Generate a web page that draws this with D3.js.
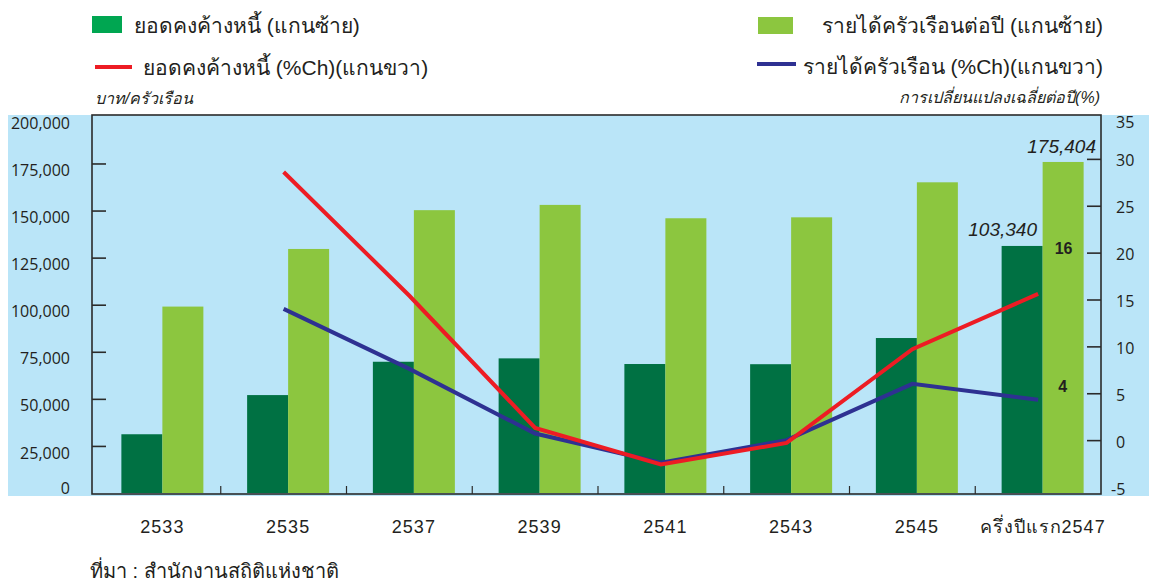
<!DOCTYPE html>
<html lang="th">
<head>
<meta charset="UTF-8">
<script src="https://d3js.org/d3.v7.min.js"></script>
<title>ยอดคงค้างหนี้และรายได้ครัวเรือน</title>
<style>
  body { margin: 0; background: #fff; }
  text { font-family: "Liberation Sans", "Noto Sans", sans-serif; fill: #231f20; }
  .num { font-family: "Open Sans", "Noto Sans", sans-serif; }
</style>
</head>
<body>
<div id="chart"></div>
<script>
// data
const years = ["2533", "2535", "2537", "2539", "2541", "2543", "2545", "2547"];
const yearLabels = ["2533", "2535", "2537", "2539", "2541", "2543", "2545", "ครึ่งปีแรก2547"];
const debt = [31200, 52000, 69700, 71500, 68500, 68400, 82300, 131200];        // ยอดคงค้างหนี้ (bar, left)
const income = [99000, 129600, 150200, 153000, 145900, 146400, 165000, 175800]; // รายได้ครัวเรือนต่อปี (bar, left)
const debtCh = [null, 28.6, 15.4, 1.3, -2.6, -0.3, 9.7, 15.6];                 // %Ch right
const incomeCh = [null, 14.0, 7.6, 0.7, -2.4, 0.0, 6.0, 4.3];                  // %Ch right
const leftTicks = [0, 25000, 50000, 75000, 100000, 125000, 150000, 175000, 200000];
const rightTicks = [-5, 0, 5, 10, 15, 20, 25, 30, 35];
const debtLastLabel = "103,340";
const incomeLastLabel = "175,404";
const debtChLastLabel = "16";
const incomeChLastLabel = "4";

const W = 1149, H = 584;
const plot = {left: 92, right: 1101, top: 115, bottom: 494};

const svg = d3.select("#chart").append("svg")
  .attr("width", W).attr("height", H);

// light blue background band
svg.append("rect")
  .attr("x", 8).attr("y", plot.top)
  .attr("width", W - 8).attr("height", plot.bottom - plot.top + 2)
  .attr("fill", "#bae5f8");

const x = d3.scaleBand().domain(years).range([95, 1101]);
const yL = d3.scaleLinear().domain([0, 200000]).range([493, 116.4]);
const yR = d3.scaleLinear().domain([-5, 35]).range([487, 112]);
const barW = 41;
const shift = 4.5;
const cx = d => x(d) + x.bandwidth() / 2;

// bars
const g = svg.append("g");
g.selectAll(".debt").data(years).enter().append("rect")
  .attr("x", (d) => cx(d) + shift - barW)
  .attr("y", (d, i) => yL(debt[i]))
  .attr("width", barW)
  .attr("height", (d, i) => yL(0) - yL(debt[i]))
  .attr("fill", "#007143");
g.selectAll(".inc").data(years).enter().append("rect")
  .attr("x", (d) => cx(d) + shift)
  .attr("y", (d, i) => yL(income[i]))
  .attr("width", barW)
  .attr("height", (d, i) => yL(0) - yL(income[i]))
  .attr("fill", "#8cc63f");

// lines
const line = d3.line()
  .defined(d => d[1] != null)
  .x(d => cx(d[0]))
  .y(d => yR(d[1]));
svg.append("path")
  .datum(years.map((y, i) => [y, incomeCh[i]]))
  .attr("d", line).attr("fill", "none")
  .attr("stroke", "#2e3192").attr("stroke-width", 4);
svg.append("path")
  .datum(years.map((y, i) => [y, debtCh[i]]))
  .attr("d", line).attr("fill", "none")
  .attr("stroke", "#ed1c24").attr("stroke-width", 4);

// plot frame
svg.append("rect")
  .attr("x", plot.left).attr("y", plot.top)
  .attr("width", plot.right - plot.left).attr("height", plot.bottom - plot.top)
  .attr("fill", "none").attr("stroke", "#2b2b2b").attr("stroke-width", 1.6);

// inner ticks
svg.append("g").attr("transform", "translate(" + plot.left + ",0)")
  .call(d3.axisRight(yL).tickValues(leftTicks.slice(1, -1)).tickSize(14).tickFormat(""))
  .call(a => a.select(".domain").remove());
svg.append("g").attr("transform", "translate(" + plot.right + ",0)")
  .call(d3.axisLeft(yR).tickValues(rightTicks.slice(1, -1)).tickSize(14).tickFormat(""))
  .call(a => a.select(".domain").remove());
svg.selectAll(".tick line").attr("stroke", "#2b2b2b").attr("stroke-width", 1.6);
// bottom ticks between groups
svg.append("g").selectAll("line").data(years.slice(1)).enter().append("line")
  .attr("x1", d => x(d)).attr("x2", d => x(d))
  .attr("y1", plot.bottom - 8).attr("y2", plot.bottom)
  .attr("stroke", "#2b2b2b").attr("stroke-width", 1.2);

// tick labels
svg.append("g").selectAll("text").data(leftTicks).enter().append("text")
  .attr("class", "num")
  .attr("x", 70).attr("y", d => Math.min(yL(d) + 7, 488))
  .attr("dy", "0.35em").attr("text-anchor", "end")
  .style("font-size", "16px")
  .text(d => d3.format(",")(d));
svg.append("g").selectAll("text").data(rightTicks).enter().append("text")
  .attr("class", "num")
  .attr("x", d => d < 0 ? 1111 : 1116).attr("y", d => Math.max(yR(d) + 2, 122))
  .attr("dy", "0.35em")
  .style("font-size", "16px")
  .text(d => d);

// x labels
svg.append("g").selectAll("text").data(years).enter().append("text")
  .attr("x", d => cx(d) + shift).attr("y", 533)
  .attr("text-anchor", "middle")
  .style("font-size", "18px").style("letter-spacing", "1px")
  .text((d, i) => yearLabels[i]);

// value annotations
const last = years[years.length - 1];
svg.append("text").attr("x", cx(last) + shift - 40).attr("y", 236)
  .attr("text-anchor", "middle").style("font-size", "19px").style("font-style", "italic")
  .text(debtLastLabel);
svg.append("text").attr("x", cx(last) + shift + 19).attr("y", 153)
  .attr("text-anchor", "middle").style("font-size", "19px").style("font-style", "italic")
  .text(incomeLastLabel);
svg.append("text").attr("x", cx(last) + shift + 21).attr("y", 254)
  .attr("text-anchor", "middle").style("font-size", "16px").style("font-weight", "bold")
  .text(debtChLastLabel);
svg.append("text").attr("x", cx(last) + shift + 20).attr("y", 392)
  .attr("text-anchor", "middle").style("font-size", "16px").style("font-weight", "bold")
  .text(incomeChLastLabel);

// legend
svg.append("rect").attr("x", 92).attr("y", 16).attr("width", 30).attr("height", 17).attr("fill", "#00a651");
svg.append("text").attr("x", 134).attr("y", 33).style("font-size", "21px").text("ยอดคงค้างหนี้ (แกนซ้าย)");
svg.append("line").attr("x1", 95).attr("x2", 132).attr("y1", 67).attr("y2", 67)
  .attr("stroke", "#ed1c24").attr("stroke-width", 4);
svg.append("text").attr("x", 143).attr("y", 75).style("font-size", "21px").text("ยอดคงค้างหนี้ (%Ch)(แกนขวา)");
svg.append("text").attr("x", 95).attr("y", 104).style("font-size", "16px").style("font-style", "italic").text("บาท/ครัวเรือน");

svg.append("rect").attr("x", 758).attr("y", 17).attr("width", 35).attr("height", 17).attr("fill", "#8cc63f");
svg.append("text").attr("x", 1103).attr("y", 33).attr("text-anchor", "end").style("font-size", "21px").text("รายได้ครัวเรือนต่อปี (แกนซ้าย)");
svg.append("line").attr("x1", 757).attr("x2", 796).attr("y1", 64).attr("y2", 64)
  .attr("stroke", "#2e3192").attr("stroke-width", 4);
svg.append("text").attr("x", 1103).attr("y", 74).attr("text-anchor", "end").style("font-size", "21px").text("รายได้ครัวเรือน (%Ch)(แกนขวา)");
svg.append("text").attr("x", 1100).attr("y", 103).attr("text-anchor", "end").style("font-size", "16px").style("font-style", "italic").text("การเปลี่ยนแปลงเฉลี่ยต่อปี(%)");

// source
svg.append("text").attr("x", 90).attr("y", 578).style("font-size", "20px").text("ที่มา : สำนักงานสถิติแห่งชาติ");
</script>
</body>
</html>
